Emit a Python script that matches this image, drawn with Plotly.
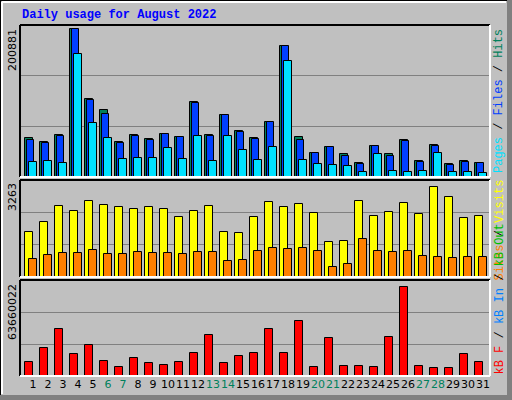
import plotly.graph_objects as go

days = list(range(1, 32))
hits_px = [415,427,406,88,298,331,427,406,418,403,412,307,406,346,394,415,367,139,412,460,442,463,487,439,463,421,481,436,490,481,487]
files_px = [421,430,408,88,301,343,430,409,421,403,412,310,409,346,397,418,367,139,421,460,442,466,490,439,466,424,484,439,493,484,487]
pages_px = [484,481,487,163,370,415,475,472,472,445,475,409,481,409,451,478,442,184,478,490,493,496,514,463,511,514,511,460,514,514,517]
visits_px = [166,136,88,103,73,85,91,97,91,97,121,103,88,166,169,121,76,91,82,109,199,196,73,118,106,79,112,28,61,124,118]
sites_px = [250,238,232,232,223,235,235,229,232,232,235,229,229,256,253,226,217,220,217,226,274,265,190,226,229,226,241,244,247,244,244]
kb_px = [559,517,457,535,508,556,574,547,562,568,559,532,475,562,541,532,457,532,433,574,487,571,571,574,481,328,571,577,577,535,559]

MAX_HITS = 200881
MAX_VISITS = 3263
MAX_KB = 63660022
hits = [round((530 - p) / 442 * MAX_HITS) for p in hits_px]
files = [round((530 - p) / 442 * MAX_HITS) for p in files_px]
pages = [round((530 - p) / 442 * MAX_HITS) for p in pages_px]
visits = [round((305 - p) / 277 * MAX_VISITS) for p in visits_px]
sites = [round((305 - p) / 277 * MAX_VISITS) for p in sites_px]
kbytes = [round((602 - p) / 274 * MAX_KB) for p in kb_px]
weekend = {6, 7, 13, 14, 20, 21, 27, 28}
tick_text = [f"<span style='color:#00805c'>{d}</span>" if d in weekend else str(d) for d in days]

W, H = 512, 400
fig = go.Figure()
line = dict(color="black", width=1)

def bar(y, color, off, w, xa, ya):
    fig.add_trace(go.Bar(x=days, y=y, marker=dict(color=color, line=line), offset=off, width=w,
                         xaxis=xa, yaxis=ya, showlegend=False, hoverinfo="skip"))

bar(hits, "#00805c", -0.53, 0.53, "x", "y")
bar(files, "#0040ff", -0.42, 0.5, "x", "y")
bar(pages, "#00e0ff", -0.25, 0.5, "x", "y")
bar(visits, "#ffff00", -0.52, 0.53, "x2", "y2")
bar(sites, "#ff8000", -0.25, 0.5, "x2", "y2")
bar(kbytes, "#ff0000", -0.52, 0.5, "x3", "y3")

xl, xr = 20, 490
xrange = [1 - 13 / 14.92, 31 + 7 / 14.92]
panels = [(25, 177, MAX_HITS * 151.5 / 148), (180, 277, MAX_VISITS * 99 / 92.3), (280, 376, MAX_KB * 98 / 91.3)]
lay = dict(barmode="overlay", width=W, height=H, margin=dict(l=0, r=0, t=0, b=0),
           paper_bgcolor="#c0c0c0", plot_bgcolor="#c0c0c0", bargap=0)
for i, (t, b, rng) in enumerate(panels):
    s = "" if i == 0 else str(i + 1)
    lay["xaxis" + s] = dict(domain=[xl / W, xr / W], range=xrange, showgrid=False, zeroline=False,
                           tickvals=days if i == 2 else [], ticktext=tick_text if i == 2 else [],
                           ticks="", tickangle=0, ticklen=0,
                           tickfont=dict(family="DejaVu Sans", size=11, color="black"),
                           anchor="y" + s, fixedrange=True)
    lay["yaxis" + s] = dict(domain=[1 - b / H, 1 - t / H], range=[0, rng], tickvals=[rng / 3, 2 * rng / 3],
                           showticklabels=False, gridcolor="#808080", gridwidth=1, zeroline=False,
                           anchor="x" + s, fixedrange=True)
fig.update_layout(**lay)

shapes = [
    dict(type="rect", xref="paper", yref="paper", x0=0, x1=1, y0=0, y1=1, line=dict(color="black", width=2)),
    dict(type="line", xref="paper", yref="paper", x0=2 / W, x1=2 / W, y0=6 / H, y1=1 - 2 / H, line=dict(color="white", width=2)),
    dict(type="line", xref="paper", yref="paper", x0=2 / W, x1=1 - 6 / W, y0=1 - 2 / H, y1=1 - 2 / H, line=dict(color="white", width=2)),
    dict(type="rect", xref="paper", yref="paper", x0=1 - 5 / W, x1=1, y0=0, y1=1, fillcolor="#808080", line=dict(width=0)),
    dict(type="rect", xref="paper", yref="paper", x0=0, x1=1, y0=0, y1=5 / H, fillcolor="#808080", line=dict(width=0)),
]
for t, b, _ in panels:
    x0, x1, y0, y1 = xl / W, xr / W, 1 - b / H, 1 - t / H
    shapes += [
        dict(type="line", xref="paper", yref="paper", x0=x0, x1=x1, y0=y1, y1=y1, line=dict(color="black", width=2)),
        dict(type="line", xref="paper", yref="paper", x0=x0, x1=x0, y0=y0, y1=y1, line=dict(color="black", width=2)),
        dict(type="line", xref="paper", yref="paper", x0=x0, x1=x1, y0=y0, y1=y0, line=dict(color="white", width=2)),
        dict(type="line", xref="paper", yref="paper", x0=x1, x1=x1, y0=y0, y1=y1, line=dict(color="white", width=2)),
    ]
fig.update_layout(shapes=shapes)

mono = "Liberation Mono"
ann = [
    dict(text="<b>Daily usage for August 2022</b>", x=20 / W, y=1 - 15 / H, xanchor="left", yanchor="middle",
         font=dict(family=mono, size=12, color="#0000ff")),
    dict(text=str(MAX_HITS), x=12 / W, y=1 - 27 / H, yanchor="top", xanchor="center", textangle=-90,
         font=dict(family="DejaVu Sans", size=11, color="black")),
    dict(text=str(MAX_VISITS), x=12 / W, y=1 - 181 / H, yanchor="top", xanchor="center", textangle=-90,
         font=dict(family="DejaVu Sans", size=11, color="black")),
    dict(text=str(MAX_KB), x=12 / W, y=1 - 282 / H, yanchor="top", xanchor="center", textangle=-90,
         font=dict(family="DejaVu Sans", size=11, color="black")),
    dict(text="<span style='color:#00e0ff'>Pages</span><span style='color:#000'> / </span><span style='color:#0040ff'>Files</span><span style='color:#000'> / </span><span style='color:#00805c'>Hits</span>",
         x=499 / W, y=1 - 27 / H, yanchor="top", xanchor="center", textangle=-90, font=dict(family=mono, size=12)),
    dict(text="<span style='color:#ff8000'>Sites</span><span style='color:#000'> / </span><span style='color:#ffff00'>Visits</span>",
         x=499 / W, y=1 - 178 / H, yanchor="top", xanchor="center", textangle=-90, font=dict(family=mono, size=12)),
    dict(text="<span style='color:#ff0000'>kB F</span><span style='color:#000'> / </span><span style='color:#0080ff'>kB In</span><span style='color:#000'> / </span><span style='color:#00c000'>kB Out</span>",
         x=499 / W, y=1 - 377 / H, yanchor="bottom", xanchor="center", textangle=-90, font=dict(family=mono, size=12)),
]
for a in ann:
    a.update(xref="paper", yref="paper", showarrow=False)
fig.update_layout(annotations=ann)
fig.write_html("out.html", config={"displayModeBar": False},
               post_script="document.body.style.margin='0';document.body.style.overflow='hidden';")
